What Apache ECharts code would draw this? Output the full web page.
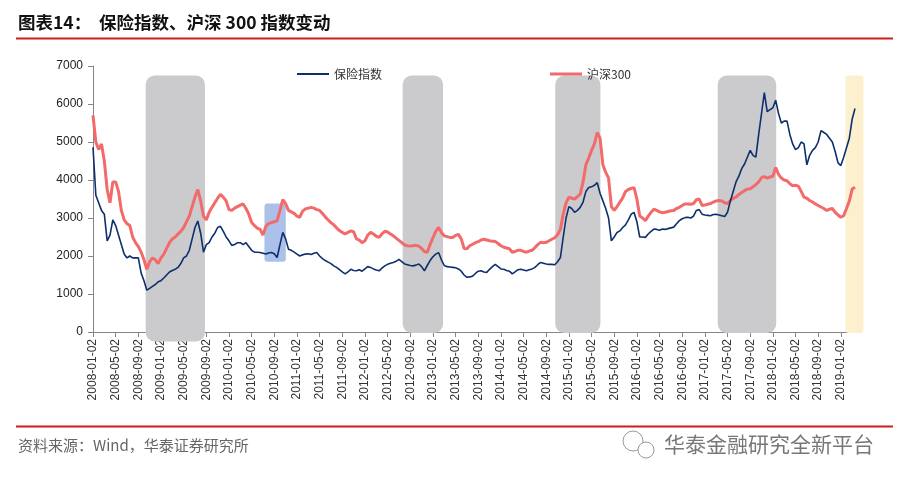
<!DOCTYPE html>
<html><head><meta charset="utf-8">
<script src="https://cdn.jsdelivr.net/npm/echarts/dist/echarts.min.js"></script>
<style>html,body{margin:0;padding:0;background:#fff}#c{width:909px;height:487px}</style>
</head><body><div id="c"></div>
<script>
// semimonthly sampling points (label shown every 4 months)
const categories = (function () {
  const out = [];
  for (let y = 2008; y <= 2019; y++) for (let m = 1; m <= 12; m++) for (const d of ['02', '16']) {
    if (out.length < 270) out.push(y + '-' + String(m).padStart(2, '0') + '-' + d);
  }
  return out;
})();

const insuranceIndex = [
  4860,3600,3400,3200,3100,2400,2550,2950,2800,2550,
  2300,2050,1950,2000,1950,1950,1950,1550,1350,1100,
  1150,1200,1250,1320,1350,1420,1500,1580,1620,1650,
  1700,1800,1950,2000,2150,2450,2750,2920,2600,2100,
  2300,2350,2500,2600,2750,2780,2650,2500,2400,2280,
  2300,2350,2350,2300,2350,2250,2150,2100,2100,2090,
  2070,2050,2080,2090,2060,1960,2300,2620,2450,2180,
  2150,2100,2050,2000,2030,2050,2060,2040,2070,2090,
  2000,1930,1880,1840,1800,1740,1700,1640,1580,1530,
  1580,1650,1620,1610,1640,1600,1660,1720,1700,1660,
  1630,1610,1680,1740,1780,1810,1830,1860,1910,1850,
  1790,1770,1750,1740,1760,1790,1720,1610,1750,1880,
  1980,2050,2090,1900,1750,1720,1710,1700,1690,1660,
  1600,1500,1440,1450,1470,1540,1600,1610,1580,1570,
  1650,1720,1780,1720,1660,1650,1620,1600,1530,1580,
  1640,1650,1630,1610,1640,1660,1700,1770,1830,1810,
  1790,1780,1780,1770,1850,1960,2500,3000,3300,3250,
  3150,3200,3280,3420,3700,3800,3820,3860,3930,3650,
  3450,3250,3000,2400,2500,2620,2660,2750,2820,2950,
  3100,3150,2900,2500,2500,2490,2580,2650,2710,2700,
  2680,2710,2700,2720,2740,2760,2850,2930,2980,3010,
  3020,3000,3050,3200,3220,3100,3080,3070,3060,3090,
  3100,3080,3060,3040,3150,3450,3700,3950,4100,4300,
  4420,4600,4780,4650,4600,5200,5750,6300,5800,5850,
  5900,6100,5750,5500,5550,5550,5200,4950,4800,4850,
  5000,4950,4400,4650,4780,4850,5000,5300,5250,5200,
  5100,5000,4750,4450,4380,4600,4850,5100,5600,5880
];

const csi300 = [
  5700,5000,4800,4950,4500,3750,3400,3950,3950,3700,
  3200,2950,2850,2800,2500,2350,2250,2100,1900,1650,
  1850,1950,1900,1800,1950,2050,2200,2350,2450,2500,
  2580,2650,2750,2900,3050,3300,3550,3750,3450,3050,
  2950,3150,3280,3400,3520,3620,3550,3450,3220,3200,
  3260,3300,3340,3370,3250,3100,2880,2800,2730,2700,
  2550,2780,2850,2880,2900,2930,3200,3480,3380,3200,
  3160,3120,3050,3020,3180,3240,3260,3280,3260,3220,
  3200,3120,3030,2950,2880,2820,2740,2670,2620,2580,
  2620,2660,2640,2450,2420,2350,2400,2550,2620,2580,
  2520,2490,2580,2650,2630,2580,2530,2470,2410,2350,
  2290,2270,2260,2270,2280,2260,2200,2120,2100,2300,
  2480,2650,2750,2620,2530,2510,2490,2490,2540,2570,
  2450,2200,2190,2270,2310,2350,2380,2420,2440,2420,
  2400,2390,2380,2330,2270,2230,2210,2190,2100,2120,
  2150,2150,2120,2100,2130,2150,2220,2300,2360,2350,
  2360,2400,2440,2480,2560,2700,3100,3400,3550,3520,
  3500,3560,3630,3950,4400,4580,4780,4950,5250,5100,
  4400,4200,4050,3300,3200,3300,3420,3530,3700,3750,
  3780,3800,3500,3050,3000,2930,3050,3150,3230,3200,
  3160,3140,3150,3170,3190,3200,3250,3280,3330,3370,
  3370,3360,3380,3480,3500,3330,3340,3360,3380,3420,
  3450,3460,3450,3400,3380,3460,3520,3550,3620,3670,
  3720,3760,3770,3820,3880,3950,4060,4090,4050,4080,
  4100,4330,4150,4050,4000,3980,3900,3850,3860,3840,
  3700,3550,3520,3460,3420,3370,3330,3290,3250,3200,
  3230,3250,3150,3080,3020,3060,3250,3450,3760,3810
];

const yTicks = [0, 1000, 2000, 3000, 4000, 5000, 6000, 7000];

// highlighted periods (date span, value span)
const shadeRegions = [
  { start: '2008-10-11', end: '2009-08-25', top: 6750, bottom: -250, kind: 'gray' },
  { start: '2010-07-10', end: '2010-11-03', top: 3380, bottom: 1850, kind: 'blue' },
  { start: '2012-07-22', end: '2013-02-26', top: 6750, bottom: -25, kind: 'gray' },
  { start: '2014-10-20', end: '2015-06-19', top: 6750, bottom: -25, kind: 'gray' },
  { start: '2017-03-10', end: '2018-01-20', top: 6750, bottom: -25, kind: 'gray' },
  { start: '2019-01-27', end: '2019-05-02', top: 6750, bottom: -25, kind: 'yellow' }
];
const shadeStyle = {
  gray: { fill: '#cbcacc', r: 9 },
  blue: { fill: 'rgba(150,178,228,0.8)', r: 3 },
  yellow: { fill: '#fdf0cf', r: 3 }
};
function dateToIndex(s) {
  const [y, m, d] = s.split('-').map(Number);
  return (y - 2008) * 24 + (m - 1) * 2 + (d - 2) / 15.2;
}

const chart = echarts.init(document.getElementById('c'), null, { renderer: 'canvas' });
const numFont = 'Liberation Sans, Arial, sans-serif';
const cjkFont = '"Noto Sans CJK SC", "Noto Sans", sans-serif';

chart.setOption({
  animation: false,
  backgroundColor: '#fff',
  grid: { left: 93, right: 54, top: 66, bottom: 155 },
  legend: [
    { left: 292, top: 63, icon: 'rect', itemWidth: 32, itemHeight: 2, itemGap: 5, data: ['保险指数'],
      textStyle: { fontFamily: cjkFont, fontSize: 12, color: '#333' } },
    { left: 545, top: 63, icon: 'rect', itemWidth: 32, itemHeight: 3, itemGap: 5, data: ['沪深300'],
      textStyle: { fontFamily: cjkFont, fontSize: 12, color: '#333' } }
  ],
  xAxis: {
    type: 'category', data: categories, boundaryGap: false,
    axisLine: { lineStyle: { color: '#868686', width: 1 } },
    axisTick: { show: true, interval: 7, length: 5, lineStyle: { color: '#868686' } },
    axisLabel: { interval: 7, rotate: 90, margin: 7, fontSize: 12, color: '#333', fontFamily: numFont },
    splitLine: { show: false }
  },
  yAxis: {
    type: 'value', min: yTicks[0], max: yTicks[yTicks.length - 1], interval: 1000,
    axisLine: { show: true, lineStyle: { color: '#868686', width: 1 } },
    axisTick: { show: true, length: 5, lineStyle: { color: '#868686' } },
    axisLabel: { fontSize: 12, color: '#222', margin: 10, fontFamily: numFont,
      formatter: function (v) { return String(v); } },
    splitLine: { show: false }
  },
  series: [
    {
      type: 'custom', silent: true, z: 1,
      data: shadeRegions.map((r, k) => [k, r.top]),
      encode: { x: 0, y: 1 },
      renderItem: function (params, api) {
        const r = shadeRegions[params.dataIndex];
        const n = categories.length - 1;
        const xa = api.coord([0, 0])[0];
        const xb = api.coord([n, 0])[0];
        const xAt = (idx) => xa + (xb - xa) * idx / n;
        const x0 = xAt(dateToIndex(r.start));
        const x1 = xAt(dateToIndex(r.end));
        const y0 = api.coord([0, r.top])[1];
        const y1 = api.coord([0, r.bottom])[1];
        const st = shadeStyle[r.kind];
        return { type: 'rect', shape: { x: x0, y: y0, width: x1 - x0, height: y1 - y0, r: st.r },
          style: { fill: st.fill } };
      }
    },
    {
      name: '保险指数', type: 'line', data: insuranceIndex, symbol: 'none', z: 3,
      lineStyle: { color: '#0d2f6e', width: 1.6 }, itemStyle: { color: '#0d2f6e' }
    },
    {
      name: '沪深300', type: 'line', data: csi300, symbol: 'none', z: 2,
      lineStyle: { color: '#f36a6a', width: 3 }, itemStyle: { color: '#f36a6a' }
    }
  ],
  graphic: [
    { type: 'text', left: 18, top: 14, style: { text: '图表14：  保险指数、沪深 300 指数变动', fontSize: 17.5, fontWeight: 'bold', fill: '#111', fontFamily: cjkFont } },
    { type: 'line', shape: { x1: 16, y1: 38.5, x2: 893, y2: 38.5 }, style: { stroke: '#cc1f1a', lineWidth: 2 } },
    { type: 'line', shape: { x1: 16, y1: 426.5, x2: 893, y2: 426.5 }, style: { stroke: '#cc1f1a', lineWidth: 2 } },
    { type: 'text', left: 18, top: 438, style: { text: '资料来源：Wind，华泰证券研究所', fontSize: 15, fill: '#666', fontFamily: cjkFont } },
    { type: 'circle', shape: { cx: 633, cy: 441, r: 10 }, style: { fill: 'none', stroke: '#999', lineWidth: 1 } },
    { type: 'circle', shape: { cx: 646, cy: 450, r: 8 }, style: { fill: '#fff', stroke: '#999', lineWidth: 1 } },
    { type: 'text', left: 664, top: 434, style: { text: '华泰金融研究全新平台', fontSize: 21, fill: '#777', fontFamily: cjkFont } }
  ]
});
</script></body></html>
